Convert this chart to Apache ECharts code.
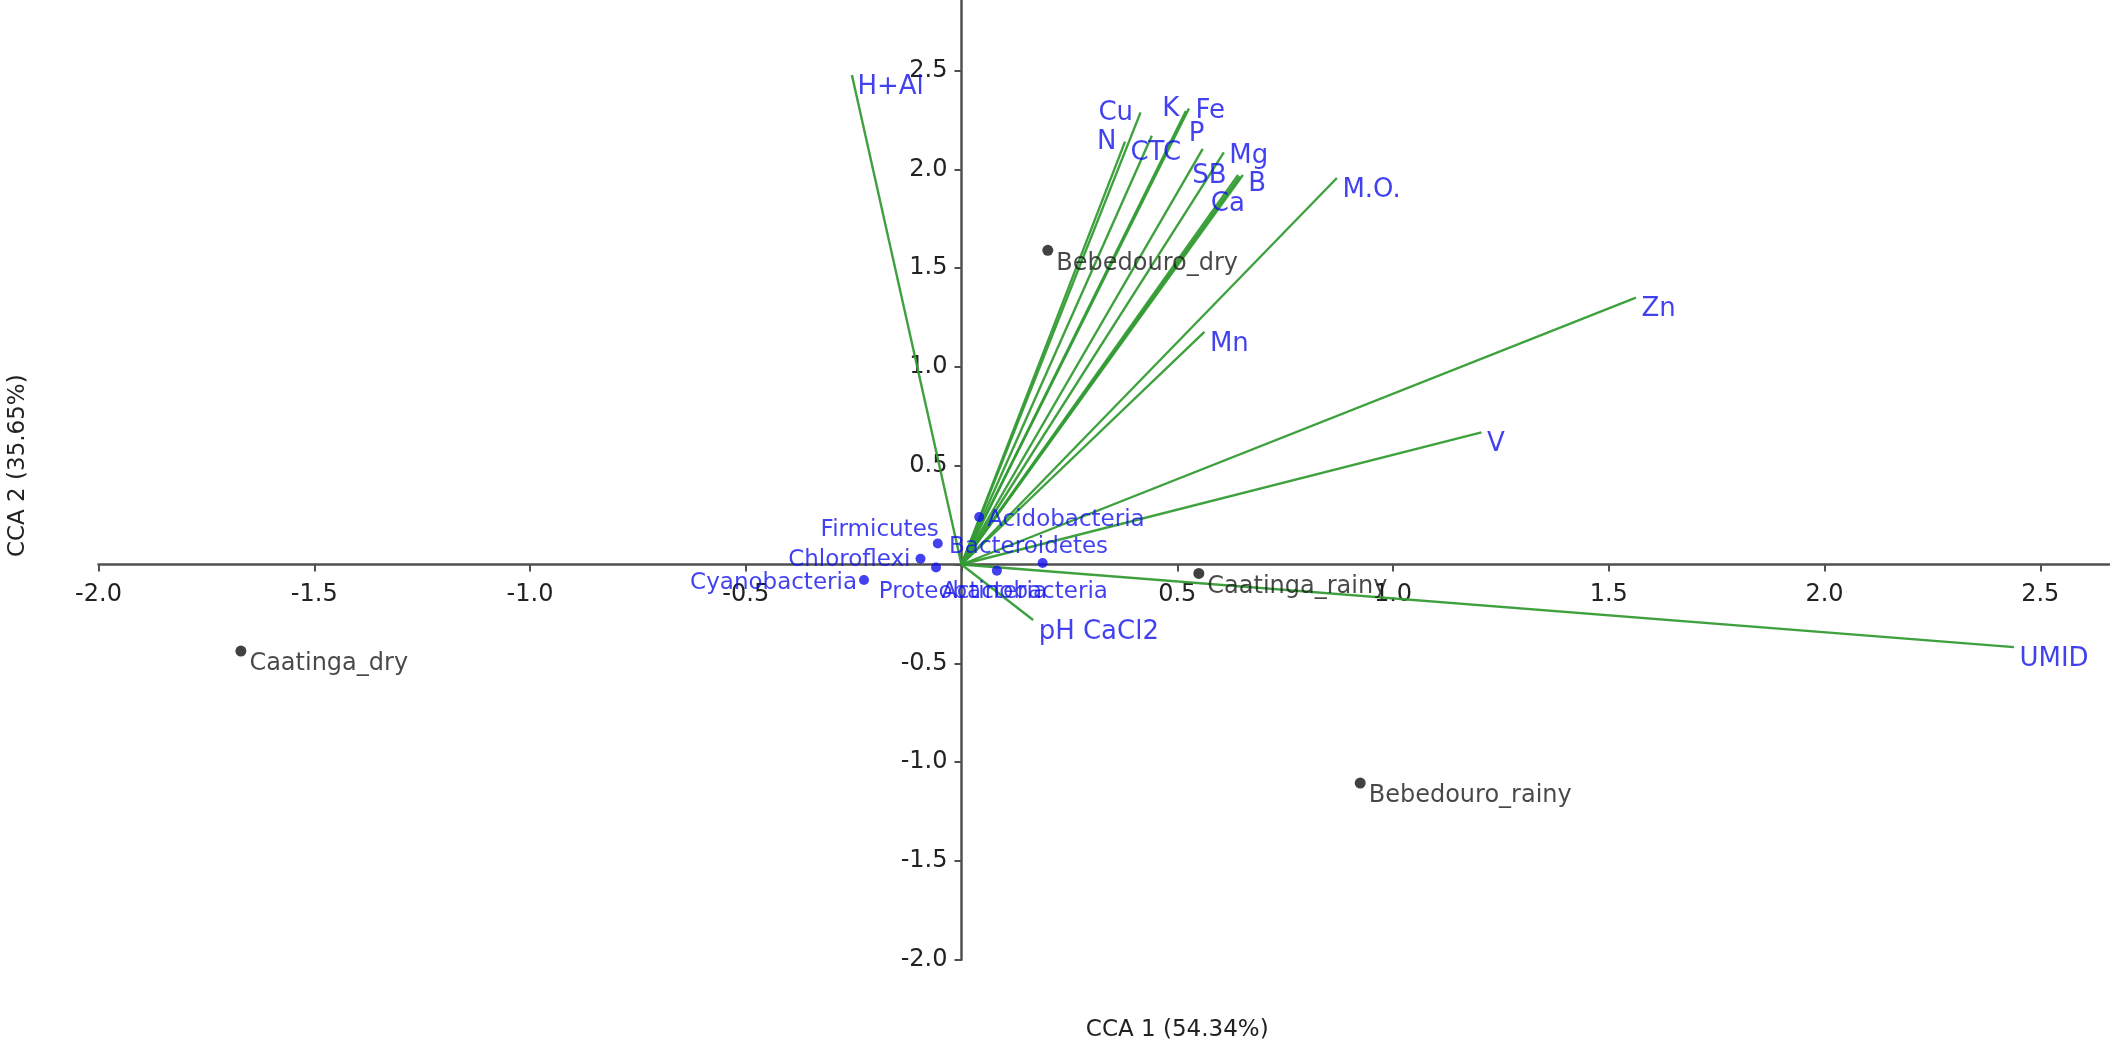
<!DOCTYPE html>
<html>
<head>
<meta charset="utf-8">
<title>CCA biplot</title>
<script src="https://cdn.jsdelivr.net/npm/echarts@6/dist/echarts.min.js"></script>
<style>
  html, body { margin: 0; padding: 0; background: #fff; }
  #chart { width: 2110px; height: 1052px; }
</style>
</head>
<body>
<div id="chart"></div>
<script>
// environmental vectors (arrow tips, CCA1 / CCA2)
const envNames = ['H+Al', 'Cu', 'N', 'CTC', 'K', 'Fe', 'P', 'Mg', 'SB', 'B', 'Ca', 'M.O.', 'Mn', 'Zn', 'V', 'UMID', 'pH CaCl2']
const envX = [-0.254, 0.415, 0.379, 0.441, 0.520, 0.527, 0.559, 0.608, 0.641, 0.652, 0.645, 0.870, 0.563, 1.563, 1.205, 2.439, 0.166]
const envY = [2.477, 2.288, 2.140, 2.170, 2.295, 2.308, 2.103, 2.086, 1.971, 1.971, 1.964, 1.956, 1.177, 1.350, 0.669, -0.418, -0.281]

// bacterial phyla
const taxaNames = ['Acidobacteria', 'Firmicutes', 'Chloroflexi', 'Bacteroidetes', 'Cyanobacteria', 'Proteobacteria', 'Actinobacteria']
const taxaX = [0.041, -0.055, -0.095, -0.059, -0.226, 0.082, 0.188]
const taxaY = [0.240, 0.106, 0.029, -0.015, -0.078, -0.031, 0.008]

// sampling sites
const siteNames = ['Bebedouro_dry', 'Caatinga_dry', 'Caatinga_rainy', 'Bebedouro_rainy']
const siteX = [0.20, -1.670, 0.55, 0.924]
const siteY = [1.59, -0.438, -0.045, -1.106]

const xTitle = 'CCA 1 (54.34%)'
const yTitle = 'CCA 2 (35.65%)'

// label placement: [position, distance, offset]
const envLabelPos = {
  'Cu': ['left', 7, [0, 1]],
  'N': ['left', 8, [0, 1]],
  'CTC': ['bottom', 4, [4, 0]],
  'K': ['left', 6, [0, -2]],
  'Fe': ['right', 6, [0, 3]],
  'P': ['top', 1, [-6, 0]],
  'Mg': ['right', 5, [0, 4]],
  'SB': ['left', 11, [0, 1]],
  'B': ['right', 5, [0, 9]],
  'Ca': ['bottom', 14, [-12, 0]]
}
const taxaLabelPos = {
  'Acidobacteria': ['right', 3, [0, 3]],
  'Firmicutes': ['left', 0, [6, -14]],
  'Chloroflexi': ['left', 5, [0, 1]],
  'Bacteroidetes': ['right', 8, [0, -20]],
  'Cyanobacteria': ['left', 2, [0, 3]],
  'Proteobacteria': ['bottom', 5, [-34, 0]],
  'Actinobacteria': ['bottom', 13, [-18, 0]]
}

const FONT = 'DejaVu Sans'
const BLUE = '#1212ec'

// grid placement: data origin sits at (961.5, 564.5) px
const GRID = { left: 98.5, right: -146, top: -28.3, bottom: 92.3 }
const X0_SHIFT = 961.5 - GRID.left        // y axis moved right onto x = 0
const Y0_SHIFT = (1052 - GRID.bottom) - 564.5 // x axis moved up onto y = 0

function labelFor(pos, def) {
  const p = pos || def
  return { position: p[0], distance: p[1], offset: p[2] }
}

const chart = echarts.init(document.getElementById('chart'))

const axisCommon = {
  type: 'value',
  interval: 0.5,
  splitLine: { show: false },
  axisLine: { onZero: false, lineStyle: { color: '#505050', width: 2.5 } },
  axisTick: { show: true, length: 7, lineStyle: { color: '#505050', width: 2 } },
  axisLabel: {
    color: '#222',
    fontFamily: FONT,
    fontSize: 24,
    formatter: v => (Math.abs(v) < 1e-9 || v >= 3) ? '' : v.toFixed(1)
  },
  nameLocation: 'middle',
  nameTextStyle: { color: '#222', fontFamily: FONT, fontSize: 23 }
}

chart.setOption({
  animation: false,
  backgroundColor: '#fff',
  textStyle: { fontFamily: FONT },
  grid: Object.assign({ containLabel: false, outerBoundsMode: 'none' }, GRID),
  xAxis: Object.assign({}, axisCommon, {
    position: 'bottom',
    offset: -Y0_SHIFT,
    min: -2.0, max: 3.0,
    name: xTitle,
    nameGap: 454,
    axisLabel: Object.assign({}, axisCommon.axisLabel, { margin: 18 })
  }),
  yAxis: Object.assign({}, axisCommon, {
    position: 'left',
    offset: -X0_SHIFT,
    min: -2.0, max: 3.0,
    name: yTitle,
    nameGap: 932,
    nameRotate: 90,
    axisLabel: Object.assign({}, axisCommon.axisLabel, { margin: 14 })
  }),
  series: [
    {
      type: 'lines',
      coordinateSystem: 'cartesian2d',
      silent: true,
      lineStyle: { color: '#349c34', width: 2.4, opacity: 0.95 },
      data: envNames.map((n, i) => ({ name: n, coords: [[0, 0], [envX[i], envY[i]]] }))
    },
    {
      type: 'scatter',
      name: 'env',
      symbolSize: 1,
      itemStyle: { color: 'rgba(0,0,0,0)' },
      label: {
        show: true,
        color: BLUE,
        fontFamily: FONT,
        fontSize: 26,
        formatter: p => p.name
      },
      data: envNames.map((n, i) => ({
        name: n,
        value: [envX[i], envY[i]],
        label: labelFor(envLabelPos[n], ['right', 5, [0, 12]])
      }))
    },
    {
      type: 'scatter',
      name: 'taxa',
      symbolSize: 10,
      itemStyle: { color: BLUE },
      label: {
        show: true,
        color: BLUE,
        fontFamily: FONT,
        fontSize: 23,
        formatter: p => p.name
      },
      data: taxaNames.map((n, i) => ({
        name: n,
        value: [taxaX[i], taxaY[i]],
        label: labelFor(taxaLabelPos[n], ['right', 4, [0, 0]])
      }))
    },
    {
      type: 'scatter',
      name: 'sites',
      symbolSize: 11,
      itemStyle: { color: '#111' },
      label: {
        show: true,
        color: '#1a1a1a',
        fontFamily: FONT,
        fontSize: 24,
        position: 'right',
        distance: 3,
        offset: [0, 13],
        formatter: p => p.name
      },
      data: siteNames.map((n, i) => ({ name: n, value: [siteX[i], siteY[i]] }))
    }
  ]
})
</script>
</body>
</html>
